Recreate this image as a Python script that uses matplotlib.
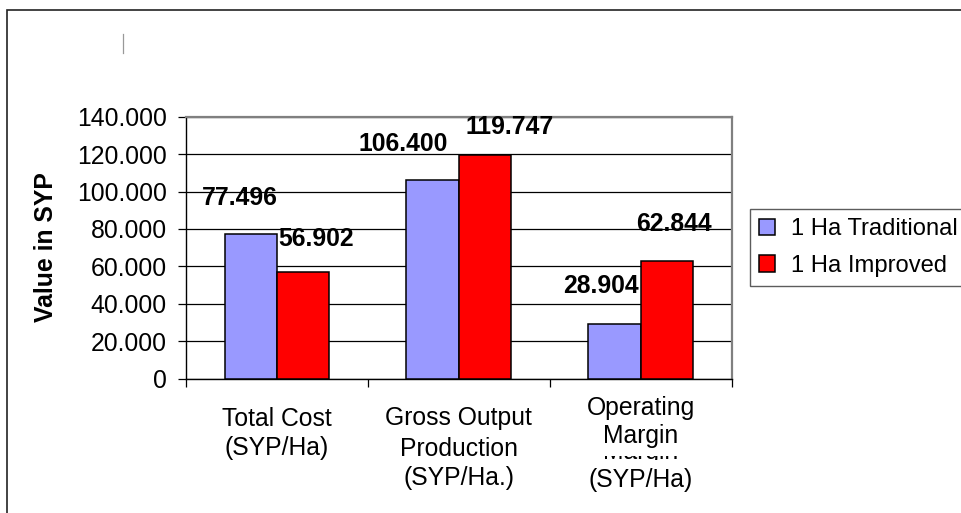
import matplotlib
matplotlib.use("Agg")
import matplotlib.pyplot as plt
import numpy as np
from matplotlib.patches import Rectangle
from matplotlib.lines import Line2D
from matplotlib.transforms import Bbox, TransformedBbox, ScaledTranslation, blended_transform_factory

# ---- data ----
categories = ["Total Cost\n(SYP/Ha)", "Gross Output\nProduction\n(SYP/Ha.)", "Operating\nMargin\n(SYP/Ha)"]
series_names = ["1 Ha Traditional", "1 Ha Improved"]
traditional = [77496, 106400, 28904]
improved = [56902, 119747, 62844]
y_ticks = [0, 20000, 40000, 60000, 80000, 100000, 120000, 140000]

# label offsets (pixels) from bar-top centre, as placed in the original
trad_label_off = [(-11, 36), (-29, 36), (-14, 38)]
imp_label_off = [(13, 33), (25, 28), (7, 37)]

colors = ["#9999FF", "#FF0000"]
FONT = "Liberation Sans"
FS = 17.8
LEG_FS = 17.1

plt.rcParams["font.family"] = [FONT, "DejaVu Sans"]

W, H = 962, 513
fig = plt.figure(figsize=(W / 100, H / 100), dpi=100)

# outer frame
fig.patches.append(Rectangle((7.5 / W, -0.1), 2.0, 1 - 10 / H + 0.1, transform=fig.transFigure,
                             fill=False, edgecolor="#222222", linewidth=1.2))
# small stray vertical line
fig.lines.append(Line2D([123.5 / W, 123.5 / W], [1 - 34 / H, 1 - 53 / H], transform=fig.transFigure,
                        color="#999999", linewidth=0.9))

ax_l, ax_t, ax_r, ax_b = 186, 116.7, 731.7, 378.5
ax = fig.add_axes([ax_l / W, 1 - ax_b / H, (ax_r - ax_l) / W, (ax_b - ax_t) / H])

x = np.arange(len(categories))
bw = 0.288
b1 = ax.bar(x - bw / 2, traditional, bw, color=colors[0], edgecolor="black", linewidth=1.1,
            label=series_names[0], zorder=3)
b2 = ax.bar(x + bw / 2, improved, bw, color=colors[1], edgecolor="black", linewidth=1.1,
            label=series_names[1], zorder=3)

ax.set_xlim(-0.5, len(categories) - 0.5)
ax.set_ylim(0, 140000)
ax.set_yticks(y_ticks)
ax.set_yticklabels([f"{v:,.0f}".replace(",", ".") for v in y_ticks], fontsize=FS)
shift = ScaledTranslation(0, -3 / 100, fig.dpi_scale_trans)
for lbl in ax.get_yticklabels():
    lbl.set_transform(lbl.get_transform() + shift)
ax.yaxis.grid(True, color="black", linewidth=0.9)
ax.set_axisbelow(True)

# x ticks at category boundaries, no labels there
ax.set_xticks(np.arange(len(categories) + 1) - 0.5)
ax.set_xticklabels([])
ax.tick_params(axis="x", which="major", length=6, width=0.9, color="black", direction="out")
ax.tick_params(axis="y", which="major", length=6, width=0.9, color="black", direction="out", pad=8)

for s in ["left", "bottom"]:
    ax.spines[s].set_color("black")
    ax.spines[s].set_linewidth(1.0)
for s in ["top", "right"]:
    ax.spines[s].set_color("#808080")
    ax.spines[s].set_linewidth(1.6)

# category labels
btrans = blended_transform_factory(ax.transData, ax.transAxes)
line_pitch = 30
for i, cat in enumerate(categories):
    lines = cat.split("\n")
    if i < 2:
        for j, ln in enumerate(lines):
            ax.annotate(ln, xy=(x[i], 0), xycoords=btrans, xytext=(0, -(40 + j * line_pitch)),
                        textcoords="offset pixels", ha="center", va="center", fontsize=FS)
    else:
        # third label rendered with overlapping lines as in the original
        ax.annotate(lines[0], xy=(x[i], 0), xycoords=btrans, xytext=(0, -29.5),
                    textcoords="offset pixels", ha="center", va="center", fontsize=FS)
        ax.annotate(lines[1], xy=(x[i], 0), xycoords=btrans, xytext=(0, -58),
                    textcoords="offset pixels", ha="center", va="center", fontsize=FS)
        ghost = ax.annotate(lines[1], xy=(x[i], 0), xycoords=btrans, xytext=(0, -(459.5 - ax_b)),
                            textcoords="offset pixels", ha="center", va="baseline", fontsize=FS,
                            annotation_clip=False)
        ghost.set_clip_box(TransformedBbox(Bbox([[0, 1 - 459.5 / H], [1, 1 - 455.5 / H]]), fig.transFigure))
        ghost.set_clip_on(True)
        ax.annotate(lines[2], xy=(x[i], 0), xycoords=btrans, xytext=(0, -101.5),
                    textcoords="offset pixels", ha="center", va="center", fontsize=FS)

# data labels
for bars, vals, offs in [(b1, traditional, trad_label_off), (b2, improved, imp_label_off)]:
    for rect, v, (dx, dy) in zip(bars, vals, offs):
        ax.annotate(f"{v:,.0f}".replace(",", "."), xy=(rect.get_x() + rect.get_width() / 2, v),
                    xytext=(dx, dy), textcoords="offset pixels", ha="center", va="center",
                    fontsize=FS, fontweight="bold", annotation_clip=False, zorder=5)

fig.text(46 / W, 1 - 247.5 / H, "Value in SYP", rotation=90, ha="center", va="center",
         fontsize=FS, fontweight="bold")

leg = ax.legend(loc="upper left", bbox_to_anchor=(750 / W, 1 - 209 / H), bbox_transform=fig.transFigure,
                borderaxespad=0, fontsize=LEG_FS, handlelength=0.68, handleheight=0.68, handletextpad=0.68,
                borderpad=0.38, labelspacing=0.62, frameon=True, fancybox=False)
leg.get_frame().set_edgecolor("#333333")
leg.get_frame().set_linewidth(1.0)

fig.savefig("out.png", dpi=100)
